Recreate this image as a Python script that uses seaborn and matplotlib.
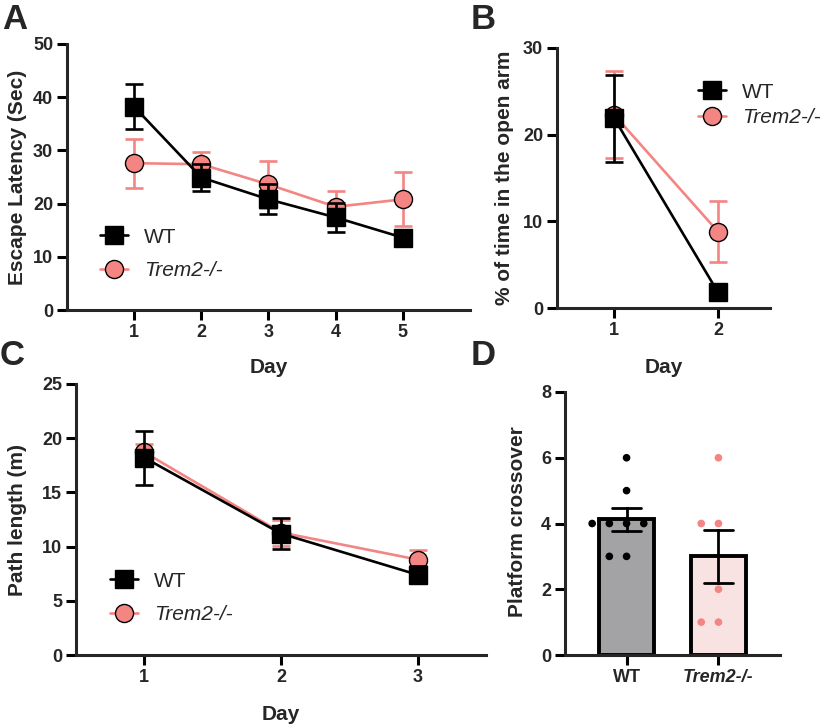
import numpy as np
import pandas as pd
import matplotlib
matplotlib.use("Agg")
import matplotlib.pyplot as plt
import seaborn as sns
from matplotlib.transforms import Affine2D
from matplotlib.lines import Line2D

# ---------------- data ----------------
groups = ["WT", "Trem2-/-"]

# Panel A: escape latency
a_days = [1, 2, 3, 4, 5]
a_wt_mean = [38.2, 24.9, 20.8, 17.4, 13.6]
a_wt_sem = [4.2, 2.6, 2.8, 2.7, 1.5]
a_ko_mean = [27.6, 27.4, 23.6, 19.4, 20.8]
a_ko_sem = [4.6, 2.3, 4.5, 2.9, 5.1]

# Panel B: % time in open arm
b_days = [1, 2]
b_wt_mean = [21.9, 1.8]
b_wt_sem = [5.0, 0.5]
b_ko_mean = [22.3, 8.8]
b_ko_sem = [5.0, 3.5]

# Panel C: path length
c_days = [1, 2, 3]
c_wt_mean = [18.2, 11.2, 7.4]
c_wt_sem = [2.5, 1.4, 0.8]
c_ko_mean = [18.7, 11.3, 8.8]
c_ko_sem = [0.8, 1.2, 0.9]

# Panel D: platform crossover (individual animals)
d_wt_points = [6, 5, 4, 4, 4, 4, 3, 3]
d_ko_points = [6, 4, 4, 2, 1, 1]

# ---------------- style ----------------
sns.set_style("ticks")
plt.rcParams["font.family"] = ["Liberation Sans", "DejaVu Sans"]
plt.rcParams["axes.linewidth"] = 2.2

BLACK = "#000000"
PINK = "#F38583"
PINK_BAR = "#FDDEDE"
GREY_BAR = "#A2A2A6"

W, H = 828, 728
fig = plt.figure(figsize=(W / 100, H / 100), dpi=100)
# pixel coordinates measured from the top-left corner
T = Affine2D().scale(1, -1).translate(0, H)


def px_axes(l, t, r, b):
    return fig.add_axes([l / W, 1 - b / H, (r - l) / W, (b - t) / H])


def style_axes(ax):
    sns.despine(ax=ax)
    ax.tick_params(width=2.2, length=7, labelsize=13, pad=3, color="black")
    for s in ax.spines.values():
        s.set_linewidth(2.2)


def bold_ticks(ax):
    plt.setp(ax.get_xticklabels(), fontweight="bold")
    plt.setp(ax.get_yticklabels(), fontweight="bold")


def line_panel(ax, days, wt_m, wt_s, ko_m, ko_s):
    series = [("Trem2-/-", ko_m, ko_s, PINK, "o", 3), ("WT", wt_m, wt_s, BLACK, "s", 4)]
    for g, m, s, color, marker, z in series:
        ax.errorbar(days, m, yerr=s, fmt="none", ecolor=color, elinewidth=1.9,
                    capsize=6.5, capthick=1.9, zorder=z)
        df = pd.DataFrame({"Day": days, "val": m})
        sns.lineplot(data=df, x="Day", y="val", ax=ax, color=color, marker=marker,
                     markersize=13, markeredgecolor="black", markeredgewidth=1.0,
                     linewidth=1.9, legend=False, zorder=z + 0.1)


def add_legend(ax, x, y, spacing):
    handles = [
        Line2D([], [], color=BLACK, marker="s", markersize=13, markerfacecolor=BLACK,
               markeredgecolor="black", linewidth=1.9),
        Line2D([], [], color=PINK, marker="o", markersize=13, markerfacecolor=PINK,
               markeredgecolor="black", markeredgewidth=1.0, linewidth=1.9),
    ]
    leg = ax.legend(handles, groups, loc="center left", bbox_to_anchor=(x, y),
                    bbox_transform=T, frameon=False, fontsize=15, handlelength=1.35,
                    handletextpad=0.75, labelspacing=spacing, borderpad=0, borderaxespad=0)
    leg.get_texts()[1].set_style("italic")


def set_labels(ax, xlabel, ylabel, xlab_top, ylab_right, yc):
    if xlabel:
        ax.set_xlabel(xlabel, fontsize=15, fontweight="bold")
        bb = ax.get_position()
        xc = (bb.x0 + bb.x1) / 2 * W
        ax.xaxis.set_label_coords(xc, xlab_top, transform=T)
    ax.set_ylabel(ylabel, fontsize=15, fontweight="bold")
    ax.yaxis.set_label_coords(ylab_right, yc, transform=T)


# ---------------- Panel A ----------------
axA = px_axes(67, 44, 470, 310)
line_panel(axA, a_days, a_wt_mean, a_wt_sem, a_ko_mean, a_ko_sem)
axA.set_xlim(0, 6)
axA.set_ylim(0, 50)
axA.set_xticks(a_days)
axA.set_yticks([0, 10, 20, 30, 40, 50])
style_axes(axA)
bold_ticks(axA)
set_labels(axA, "Day", "Escape Latency (Sec)", 358, 27, 177)
add_legend(axA, 100, 254, 0.7)

# ---------------- Panel B ----------------
axB = px_axes(557, 48, 770, 308)
line_panel(axB, b_days, b_wt_mean, b_wt_sem, b_ko_mean, b_ko_sem)
axB.set_xlim(0.45, 2.5)
axB.set_ylim(0, 30)
axB.set_xticks(b_days)
axB.set_yticks([0, 10, 20, 30])
style_axes(axB)
bold_ticks(axB)
set_labels(axB, "Day", "% of time in the open arm", 358, 514, 178)
add_legend(axB, 698, 105, 0.32)

# ---------------- Panel C ----------------
axC = px_axes(76, 384, 486, 655)
line_panel(axC, c_days, c_wt_mean, c_wt_sem, c_ko_mean, c_ko_sem)
axC.set_xlim(0.5, 3.5)
axC.set_ylim(0, 25)
axC.set_xticks(c_days)
axC.set_yticks([0, 5, 10, 15, 20, 25])
style_axes(axC)
bold_ticks(axC)
set_labels(axC, "Day", "Path length (m)", 705, 27, 520)
add_legend(axC, 110, 598, 0.7)

# ---------------- Panel D ----------------
axD = px_axes(565, 392, 780, 655)
df_d = pd.DataFrame({
    "group": ["WT"] * len(d_wt_points) + ["Trem2-/-"] * len(d_ko_points),
    "value": d_wt_points + d_ko_points,
})
sns.barplot(data=df_d, x="group", y="value", order=groups, hue="group", hue_order=groups,
            palette={"WT": GREY_BAR, "Trem2-/-": PINK_BAR}, errorbar="se", capsize=0.32,
            err_kws={"color": "black", "linewidth": 2.0}, edgecolor="black", linewidth=2.8,
            width=0.6, legend=False, ax=axD)
sns.swarmplot(data=df_d, x="group", y="value", order=groups, hue="group", hue_order=groups,
              palette={"WT": BLACK, "Trem2-/-": PINK}, size=5.5, linewidth=6.3,
              edgecolor=(1, 1, 1, 0), legend=False, ax=axD)
axD.set_xlim(-0.67, 1.67)
axD.set_ylim(0, 8)
axD.set_yticks([0, 2, 4, 6, 8])
axD.set_xticks([0, 1])
axD.set_xticklabels(groups)
style_axes(axD)
bold_ticks(axD)
axD.get_xticklabels()[1].set_style("italic")
axD.set_xlabel("")
set_labels(axD, None, "Platform crossover", None, 527, 522)

# ---------------- panel letters ----------------
for letter, x, y in [("A", 2, 3), ("B", 471, 3), ("C", 0, 339), ("D", 471, 339)]:
    fig.text(x, y, letter, transform=T, fontsize=25, fontweight="bold", ha="left", va="top")

fig.savefig("out.png", dpi=100)
